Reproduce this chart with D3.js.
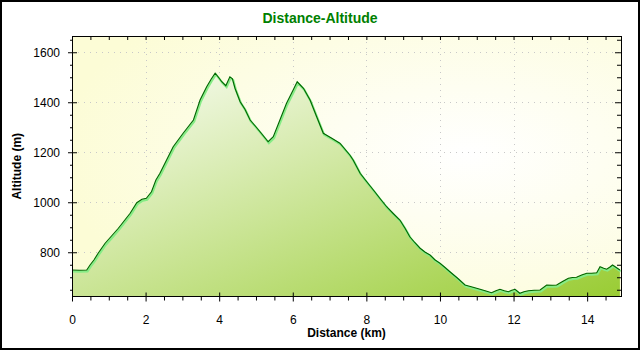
<!DOCTYPE html>
<html><head><meta charset="utf-8">
<script src="https://cdn.jsdelivr.net/npm/d3@7/dist/d3.min.js"></script>
<style>body{margin:0;background:#fff}svg{display:block}text{font-family:"Liberation Sans",Arial,sans-serif}</style>
</head><body>
<script>
const distance = [0,0.2,0.4,0.49,0.6,0.71,0.8,0.9,1.08,1.26,1.42,1.58,1.76,1.9,2.02,2.16,2.28,2.39,2.57,2.75,3.02,3.30,3.48,3.66,3.78,3.89,3.98,4.07,4.18,4.29,4.36,4.43,4.57,4.70,4.84,4.98,5.11,5.22,5.33,5.47,5.65,5.83,6.01,6.12,6.29,6.47,6.65,6.83,7.06,7.28,7.55,7.64,7.83,8.01,8.19,8.37,8.55,8.73,8.91,9.05,9.18,9.32,9.46,9.60,9.73,9.86,10.0,10.13,10.27,10.48,10.68,10.9,11.09,11.25,11.4,11.52,11.63,11.75,11.86,11.95,12.04,12.17,12.28,12.4,12.56,12.72,12.9,13.05,13.17,13.33,13.49,13.60,13.71,13.85,13.99,14.12,14.26,14.35,14.45,14.53,14.62,14.69,14.8,14.89];
const altitude = [729,728,729,749,770,796,815,836,866,896,926,956,998,1012,1016,1042,1089,1116,1169,1222,1276,1329,1409,1462,1492,1516,1500,1482,1466,1502,1494,1456,1402,1372,1329,1305,1282,1262,1242,1262,1329,1396,1449,1482,1456,1409,1342,1276,1256,1236,1189,1169,1116,1082,1049,1015,982,955,929,896,862,838,816,800,789,770,756,740,722,696,669,660,652,645,638,646,652,646,642,648,652,636,642,646,648,649,669,668,669,683,696,699,700,709,716,716,718,742,736,732,741,749,738,729];
const xMajor = [0,2,4,6,8,10,12,14];
const yMajor = [800,1000,1200,1400,1600];
const title = "Distance-Altitude";
const xTitle = "Distance (km)";
const yTitle = "Altitude (m)";

const W = 640, H = 350;
const L = 72, R = 621, T = 36, B = 296.5;
const svg = d3.select("body").append("svg").attr("width", W).attr("height", H);
const defs = svg.append("defs");

const bg = defs.append("radialGradient").attr("id","bg").attr("cx","72%").attr("cy","45%").attr("r","75%");
bg.append("stop").attr("offset","0%").attr("stop-color","#ffffff");
bg.append("stop").attr("offset","100%").attr("stop-color","#fcfcd6");

const ag = defs.append("linearGradient").attr("id","ag").attr("gradientUnits","userSpaceOnUse")
  .attr("x1",L).attr("y1",T).attr("x2",237).attr("y2",450);
ag.append("stop").attr("offset","0.05").attr("stop-color","#ffffff");
ag.append("stop").attr("offset","1").attr("stop-color","#99cc33");

const x = d3.scaleLinear().domain([0,14.92]).range([L,R]);
const y = d3.scaleLinear().domain([623,1665]).range([B,T]);

svg.append("rect").attr("x",1).attr("y",1).attr("width",W-2).attr("height",H-2)
  .attr("fill","#fff").attr("stroke","#000").attr("stroke-width",2);

svg.append("rect").attr("x",L).attr("y",T).attr("width",R-L).attr("height",B-T).attr("fill","url(#bg)");

// grid
const grid = svg.append("g").attr("stroke","#c8c8c8").attr("stroke-dasharray","1,5");
grid.selectAll(".gx").data(xMajor.filter(d=>d>0)).join("line")
  .attr("x1",d=>Math.round(x(d))+0.5).attr("x2",d=>Math.round(x(d))+0.5).attr("y1",T).attr("y2",B);
grid.selectAll(".gy").data(yMajor).join("line")
  .attr("y1",d=>Math.round(y(d))+0.5).attr("y2",d=>Math.round(y(d))+0.5).attr("x1",L).attr("x2",R);

const pts = distance.map((d,i)=>[d, altitude[i]]);
svg.append("path").datum(pts)
  .attr("d", d3.area().x(d=>x(d[0])).y0(B).y1(d=>y(d[1])))
  .attr("fill","url(#ag)");
svg.append("path").datum(pts)
  .attr("d", d3.line().x(d=>x(d[0])).y(d=>y(d[1])))
  .attr("fill","none").attr("stroke","#86ec86").attr("stroke-width",2.2).attr("transform","translate(0.8,1.4)");
svg.append("path").datum(pts)
  .attr("d", d3.line().x(d=>x(d[0])).y(d=>y(d[1])))
  .attr("fill","none").attr("stroke","#006400").attr("stroke-width",1.1);

// frame
svg.append("rect").attr("x",L+0.5).attr("y",T+0.5).attr("width",R-L).attr("height",B-T-0.5)
  .attr("fill","none").attr("stroke","#000").attr("stroke-width",1);

const xMinor = d3.range(0.5,14.92,0.5).filter(d=>d%2!==0);
const yMinor = d3.range(650,1665,50).filter(d=>d%200!==0);
const fmt = d3.format("d");

// bottom axis
const bx = svg.append("g").attr("transform",`translate(0,${B})`)
  .call(d3.axisBottom(x).tickValues(xMajor).tickFormat(fmt).tickSize(5).tickPadding(14).tickSizeOuter(0));
bx.selectAll(".tick line").attr("y1",-4);
bx.append("g").call(d3.axisBottom(x).tickValues(xMinor).tickFormat("").tickSize(4).tickSizeOuter(0));
// left axis
const ly = svg.append("g").attr("transform",`translate(${L},0)`)
  .call(d3.axisLeft(y).tickValues(yMajor).tickFormat(fmt).tickSize(4).tickPadding(8).tickSizeOuter(0));
ly.selectAll(".tick line").attr("x1",5);
ly.append("g").call(d3.axisLeft(y).tickValues(yMinor).tickFormat("").tickSize(2).tickSizeOuter(0));
ly.selectAll(".domain").remove();
bx.selectAll(".domain").remove();
// top axis (inward)
svg.append("g").attr("transform",`translate(0,${T})`)
  .call(d3.axisBottom(x).tickValues(xMajor.concat(xMinor)).tickFormat("").tickSize(4).tickSizeOuter(0))
  .select(".domain").remove();
// right axis (inward)
const ra = svg.append("g").attr("transform",`translate(${R},0)`);
ra.call(d3.axisLeft(y).tickValues(yMinor).tickFormat("").tickSize(4).tickSizeOuter(0)).select(".domain").remove();
ra.append("g").call(d3.axisLeft(y).tickValues(yMajor).tickFormat("").tickSize(6).tickSizeOuter(0)).select(".domain").remove();

svg.selectAll(".tick line").attr("stroke","#000");
svg.selectAll(".tick text").attr("font-size",12).attr("fill","#000").attr("font-family","Liberation Sans, Arial, sans-serif");

svg.append("text").attr("x",320).attr("y",23).attr("text-anchor","middle")
  .attr("font-size",14).attr("font-weight","bold").attr("fill","#008000").text(title);
svg.append("text").attr("x",(L+R)/2).attr("y",337).attr("text-anchor","middle")
  .attr("font-size",12).attr("font-weight","bold").attr("fill","#000").text(xTitle);
svg.append("text").attr("transform",`translate(21,${(T+B)/2}) rotate(-90)`).attr("text-anchor","middle")
  .attr("font-size",12).attr("font-weight","bold").attr("fill","#000").text(yTitle);
</script>
</body></html>
